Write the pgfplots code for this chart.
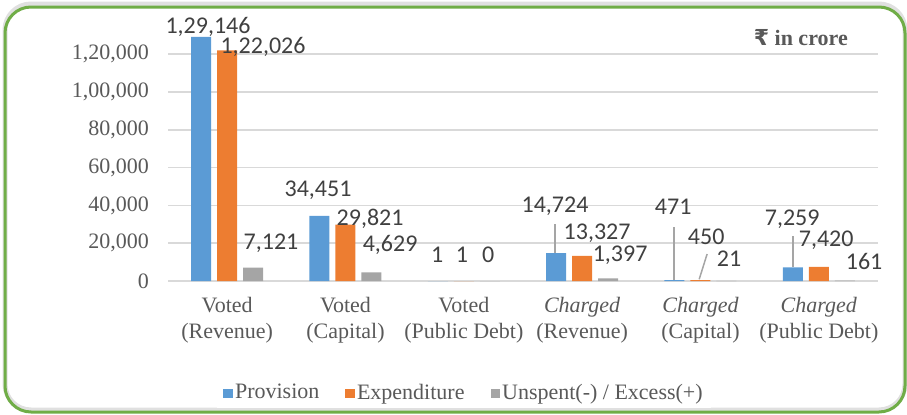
\documentclass[border=0pt]{standalone}
\usepackage{fontspec}
\setmainfont{Liberation Serif}
\newfontfamily\serif{Liberation Serif}
\newfontfamily\lblfont{Carlito}
\newfontfamily\symfont{DejaVu Sans}
\usepackage{pgfplots}
\pgfplotsset{compat=1.18}

\definecolor{cProv}{HTML}{5B9BD5}
\definecolor{cExp}{HTML}{ED7D31}
\definecolor{cUns}{HTML}{A5A5A5}
\definecolor{cGrid}{HTML}{D9D9D9}
\definecolor{cText}{HTML}{595959}
\definecolor{cLbl}{HTML}{404040}
\definecolor{cBorder}{HTML}{70AD47}

\pgfplotsset{
  sqlegend/.style={legend image code/.code={\fill[##1] (0pt,-2.6pt) rectangle (4.8pt,2.2pt);}},
  mybar/.style={ybar, bar width=10pt, draw=none, sqlegend},
}

\begin{document}
\begin{tikzpicture}
\useasboundingbox (0,0) rectangle (453.5pt,207pt);
% frame with a faint shadow
\draw[black!12, line width=2.5pt, rounded corners=13pt] (2.5pt,2pt) rectangle (452.5pt,205pt);
\draw[cBorder, line width=1.5pt, rounded corners=13pt] (2.5pt,1pt) rectangle (452.5pt,203.5pt);

\begin{axis}[
  at={(84pt,66.5pt)}, anchor=south west,
  scale only axis, width=355pt, height=122.85pt,
  xmin=-0.5, xmax=5.5, ymin=0, ymax=130000,
  xtick={0,1,2,3,4,5},
  xticklabels={Voted\\(Revenue), Voted\\(Capital), Voted\\(Public Debt),
    \textit{Charged}\\(Revenue), \textit{Charged}\\(Capital), \textit{Charged}\\(Public Debt)},
  ytick={0,20000,40000,60000,80000,100000,120000},
  yticklabels={0,{20,000},{40,000},{60,000},{80,000},{1,00,000},{1,20,000}},
  scaled y ticks=false,
  ymajorgrids, grid style={cGrid, line width=0.75pt},
  axis lines*=left,
  y axis line style={draw=none},
  x axis line style={cGrid, line width=0.75pt},
  major tick length=0pt,
  xticklabel style={align=center, text=cText, font=\serif\fontsize{11}{13}\selectfont, yshift=-4.5pt},
  yticklabel style={text=cText, font=\serif\fontsize{11}{13}\selectfont, xshift=-6pt},
  clip=false,
  legend columns=3,
  legend style={at={(axis description cs:0.417,-0.456)}, anchor=center, draw=none,
    font=\serif\fontsize{11}{13}\selectfont, text=cText, nodes={inner sep=1pt},
    /tikz/every even column/.append style={column sep=12pt}},
]
\addplot[mybar, fill=cProv, bar shift=-13pt] coordinates {
  (0,129146) (1,34451) (2,1) (3,14724) (4,471) (5,7259)};
\addlegendentry{\serif Provision}
\addplot[mybar, fill=cExp, bar shift=0pt] coordinates {
  (0,122026) (1,29821) (2,1) (3,13327) (4,450) (5,7420)};
\addlegendentry{\serif Expenditure}
\addplot[mybar, fill=cUns, bar shift=13pt] coordinates {
  (0,7121) (1,4629) (2,0) (3,1397) (4,21) (5,161)};
\addlegendentry{\serif Unspent(-) / Excess(+)}

% leader lines
\draw[cUns, line width=0.75pt] (axis cs:2.771,30159) -- (axis cs:2.771,14724);
\draw[cUns, line width=0.75pt] (axis cs:3.777,28571) -- (axis cs:3.777,471);
\draw[cUns, line width=0.75pt] (axis cs:4.056,14286) -- (axis cs:3.989,900);
\draw[cUns, line width=0.75pt] (axis cs:4.783,23810) -- (axis cs:4.783,7259);

% data labels
\tikzset{lbl/.style={text=cLbl, font=\lblfont\fontsize{12}{14}\selectfont, inner sep=0pt}}
\node[lbl] at (axis cs:-0.162,134391) {1,29,146};
\node[lbl] at (axis cs:0.303,123809) {1,22,026};
\node[lbl] at (axis cs:0.371,20106) {7,121};
\node[lbl] at (axis cs:0.768,48148) {34,451};
\node[lbl] at (axis cs:1.208,32804) {29,821};
\node[lbl] at (axis cs:1.377,19048) {4,629};
\node[lbl] at (axis cs:1.774,13757) {1};
\node[lbl] at (axis cs:1.985,13757) {1};
\node[lbl] at (axis cs:2.205,13757) {0};
\node[lbl] at (axis cs:2.771,39683) {14,724};
\node[lbl] at (axis cs:3.126,25397) {13,327};
\node[lbl] at (axis cs:3.321,13757) {1,397};
\node[lbl] at (axis cs:3.769,39153) {471};
\node[lbl] at (axis cs:4.048,23280) {450};
\node[lbl] at (axis cs:4.242,11640) {21};
\node[lbl] at (axis cs:4.775,32804) {7,259};
\node[lbl] at (axis cs:5.062,21693) {7,420};
\node[lbl] at (axis cs:5.383,10582) {161};

\node[anchor=east, text=cText, font=\serif\bfseries\fontsize{11}{13}\selectfont, inner sep=0pt]
  at (axis description cs:0.958,0.989) {{\symfont ₹} in crore};
\end{axis}
\end{tikzpicture}
\end{document}
